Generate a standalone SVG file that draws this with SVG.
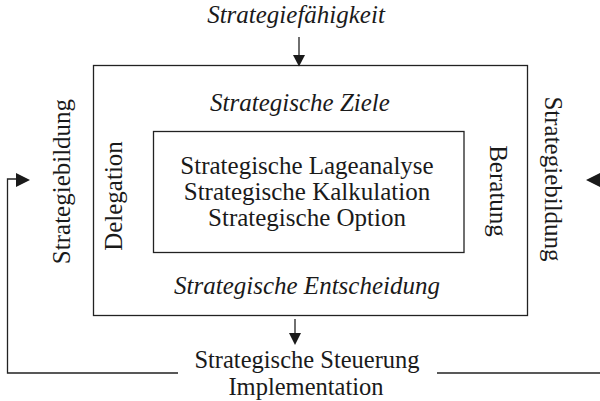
<svg xmlns="http://www.w3.org/2000/svg" width="600" height="401" viewBox="0 0 600 401">
<style>
text{font-family:"Liberation Serif","Times New Roman",serif;font-size:25px;fill:#1a1a1a;text-anchor:middle}
.it{font-style:italic}
.sm{font-size:24.5px}
.box{fill:none;stroke:#222;stroke-width:1.3}
.ln{fill:none;stroke:#222;stroke-width:1.3}
.ah{fill:#1a1a1a}
</style>
<rect width="600" height="401" fill="#fff"/>
<g id="outer"><rect class="box" x="93.5" y="65.5" width="434" height="250"/></g>
<g id="inner"><rect class="box" x="153.5" y="131.5" width="310.5" height="121"/>
<text x="307" y="174">Strategische Lageanalyse</text>
<text x="307" y="200">Strategische Kalkulation</text>
<text x="307" y="226">Strategische Option</text>
</g>
<g id="faehigkeit"><text class="it" x="296" y="23">Strategiefähigkeit</text></g>
<g id="ziele"><text class="it" x="300" y="111">Strategische Ziele</text></g>
<g id="entscheidung"><text class="it" x="307" y="294">Strategische Entscheidung</text></g>
<g id="delegation"><text transform="translate(122,196) rotate(-90)">Delegation</text></g>
<g id="beratung"><text transform="translate(490,191) rotate(90)">Beratung</text></g>
<g id="bildung-left"><text transform="translate(70,181.5) rotate(-90)">Strategiebildung</text></g>
<g id="bildung-right"><text transform="translate(545,179) rotate(90)">Strategiebildung</text></g>
<g id="steuerung"><text class="sm" x="307" y="367.5">Strategische Steuerung</text><text class="sm" x="306" y="394.5">Implementation</text></g>
<g id="connectors">
<path class="ln" d="M299 37V56"/>
<polygon class="ah" points="293,55 305,55 299,66.5"/>
<path class="ln" d="M295 319V334"/>
<polygon class="ah" points="289,333 301,333 295,345"/>
<path class="ln" d="M178 373H7.5V179H17"/>
<polygon class="ah" points="16,173 16,187 30,180"/>
<path class="ln" d="M437 373H600"/>
<polygon class="ah" points="600,173 600,187 586,180"/>
</g>
</svg>
